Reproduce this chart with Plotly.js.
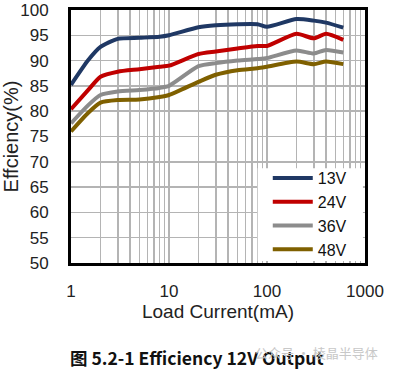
<!DOCTYPE html>
<html><head><meta charset="utf-8">
<script src="https://cdn.plot.ly/plotly-3.0.1.min.js"></script>
<style>html,body{margin:0;padding:0;background:#fff}#chart{width:393px;height:370px}</style>
</head><body><div id="chart"></div>
<script>
const loadCurrent = [1, 1.5, 2, 3, 5, 8, 10, 20, 30, 50, 80, 100, 200, 300, 400, 600];
const eff13V = [85.2, 90.1, 92.7, 94.3, 94.5, 94.7, 95.0, 96.6, 97.0, 97.2, 97.2, 96.7, 98.2, 97.9, 97.5, 96.5];
const eff24V = [80.4, 84.2, 86.8, 87.8, 88.3, 88.8, 89.0, 91.3, 91.8, 92.4, 92.9, 92.9, 95.3, 94.4, 95.3, 94.1];
const eff36V = [77.6, 81.2, 83.2, 83.9, 84.2, 84.6, 85.0, 88.9, 89.5, 90.0, 90.3, 90.5, 92.0, 91.4, 92.1, 91.6];
const eff48V = [76.0, 79.7, 81.7, 82.2, 82.3, 82.8, 83.2, 85.8, 87.2, 88.1, 88.5, 88.8, 89.8, 89.3, 89.8, 89.3];
const seriesNames = ['13V', '24V', '36V', '48V'];
const seriesColors = ['#1F3864', '#C00000', '#8C8C8C', '#7F6000'];
const xTicks = [1, 10, 100, 1000];
const yTicks = [50, 55, 60, 65, 70, 75, 80, 85, 90, 95, 100];
const minorX = [];
[1, 10, 100].forEach(d => { for (let k = 2; k <= 9; k++) minorX.push(d * k); });

const allY = [eff13V, eff24V, eff36V, eff48V];
const traces = allY.map((y, i) => ({
  x: loadCurrent, y: y, name: seriesNames[i], type: 'scatter', mode: 'lines',
  line: {color: seriesColors[i], width: 4, shape: 'spline', smoothing: 0.6}
}));

const font = 'Arial, "Liberation Sans", sans-serif';
const layout = {
  width: 393, height: 370,
  margin: {l: 71, r: 28, t: 10, b: 107},
  paper_bgcolor: '#fff', plot_bgcolor: '#fff',
  font: {family: font, color: '#222', size: 17},
  showlegend: true,
  legend: {x: 0.955, xanchor: 'right', y: -0.016, yanchor: 'bottom', bgcolor: 'rgba(0,0,0,0)',
    borderwidth: 0,
    font: {family: font, size: 16, color: '#111'}, tracegroupgap: 0, itemwidth: 40},
  shapes: [
    {type: 'rect', xref: 'paper', yref: 'paper', x0: 0.635, x1: 0.993, y0: 0.008, y1: 0.375,
     fillcolor: '#fff', line: {width: 0}, layer: 'above'}
  ],
  xaxis: {type: 'log', range: [0, 3], tickvals: xTicks, ticktext: xTicks.map(String),
    showgrid: true, gridcolor: '#b4b4b4', gridwidth: 1.5,
    minor: {tickvals: minorX, showgrid: true, gridcolor: '#b4b4b4', gridwidth: 1.5, ticks: ''},
    showline: true, linecolor: '#000', linewidth: 3, mirror: true, ticks: '',
    ticklabelstandoff: 11, tickfont: {size: 17, color: '#222'},
    title: {text: 'Load Current(mA)', font: {size: 19, color: '#222'}, standoff: 3},
    zeroline: false},
  yaxis: {range: [50, 100], tickvals: yTicks, showgrid: true, gridcolor: '#b4b4b4', gridwidth: 1.5,
    showline: true, linecolor: '#000', linewidth: 3, mirror: true, ticks: '',
    ticklabelstandoff: 16, tickfont: {size: 17, color: '#222'},
    title: {text: 'Effciency(%)', font: {size: 20, color: '#222'}, standoff: 4},
    zeroline: false},
  annotations: [
    {xref: 'paper', yref: 'paper', x: 0.43, y: 0, yshift: -94, xanchor: 'center', yanchor: 'middle',
     text: '<b>图 5.2-1 Efficiency 12V Output</b>', showarrow: false,
     font: {family: '"Noto Sans CJK SC", "Noto Sans", sans-serif', size: 17.5, color: '#111'}},
    {xref: 'paper', yref: 'paper', x: 1.05, y: 0, yshift: -89, xanchor: 'right', yanchor: 'middle',
     text: '公众号 · 棱晶半导体', showarrow: false,
     font: {family: '"Noto Sans CJK SC", sans-serif', size: 13, color: '#c8c8c8'}}
  ]
};
Plotly.newPlot('chart', traces, layout, {staticPlot: true, displayModeBar: false});
</script></body></html>
